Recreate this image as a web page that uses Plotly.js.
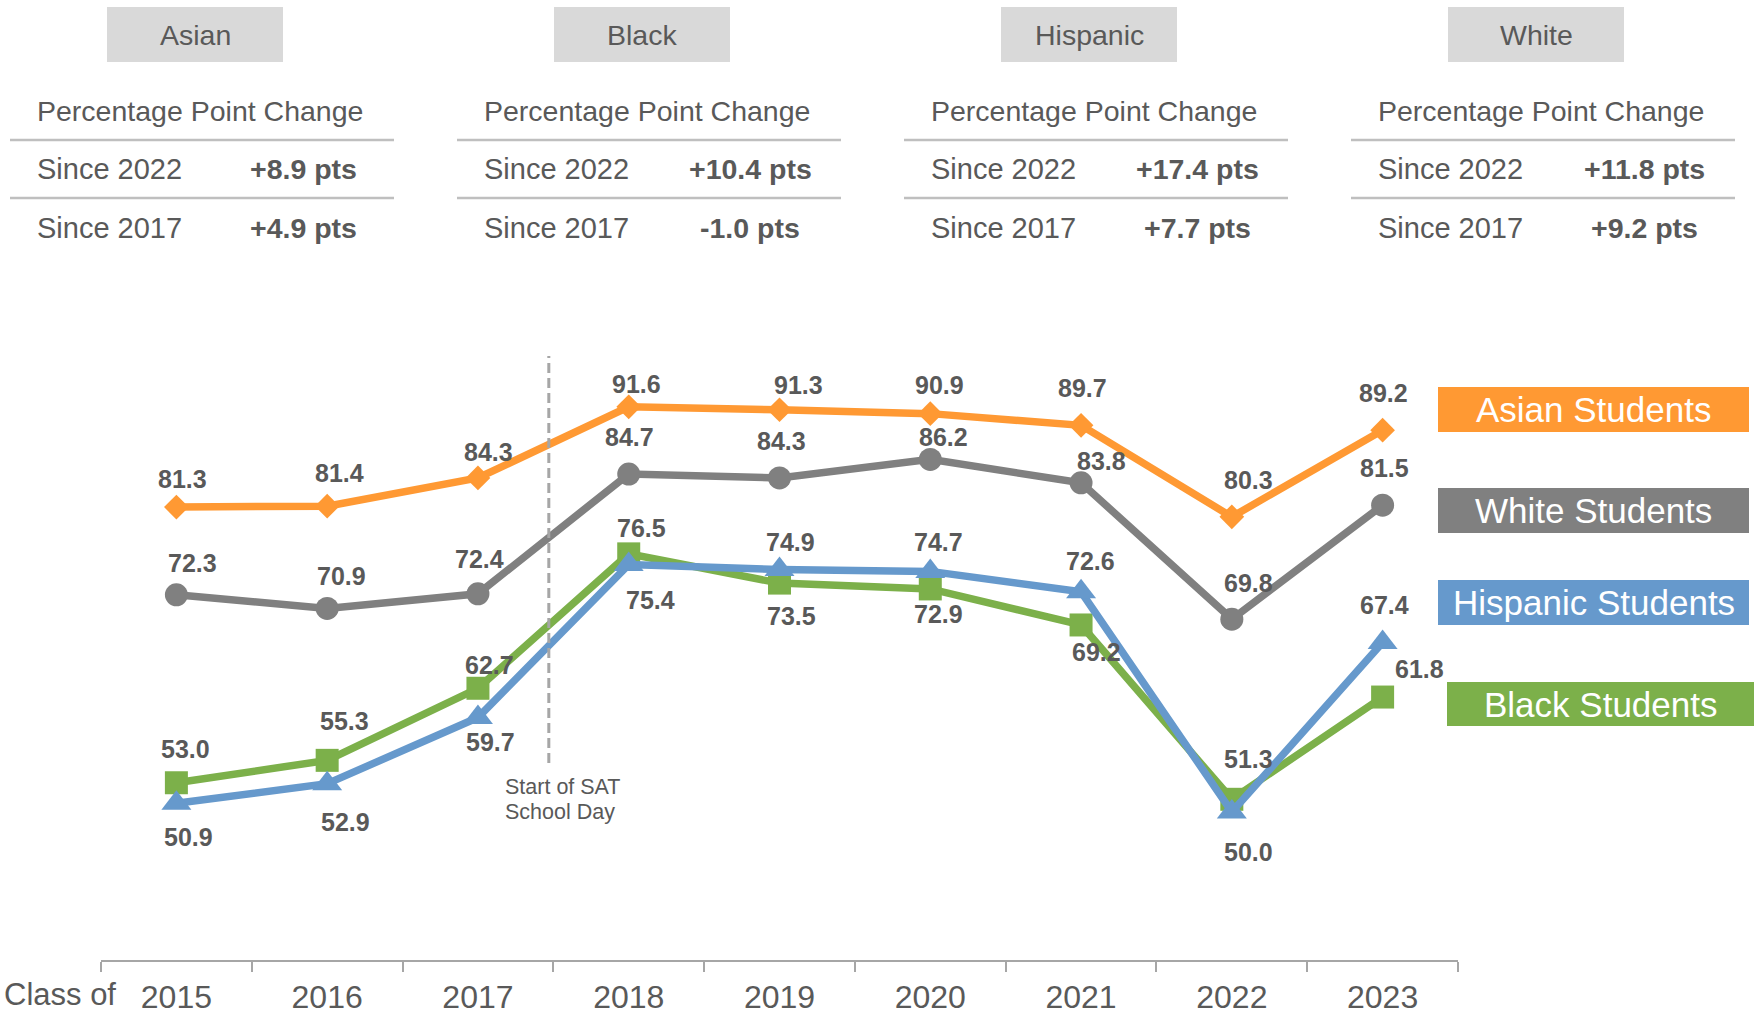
<!DOCTYPE html>
<html><head><meta charset="utf-8">
<script src="https://cdn.plot.ly/plotly-3.0.1.min.js"></script>
<style>html,body{margin:0;padding:0;background:#fff;overflow:hidden}</style>
</head><body>
<div id="chart" style="width:1754px;height:1015px"></div>
<script>
// ---------- data ----------
const years = ['2015','2016','2017','2018','2019','2020','2021','2022','2023'];
const asian    = [81.3, 81.4, 84.3, 91.6, 91.3, 90.9, 89.7, 80.3, 89.2];
const white    = [72.3, 70.9, 72.4, 84.7, 84.3, 86.2, 83.8, 69.8, 81.5];
const black    = [53.0, 55.3, 62.7, 76.5, 73.5, 72.9, 69.2, 51.3, 61.8];
const hispanic = [50.9, 52.9, 59.7, 75.4, 74.9, 74.7, 72.6, 50.0, 67.4];
const seriesNames = ['Asian Students', 'White Students', 'Hispanic Students', 'Black Students'];
const groups = ['Asian', 'Black', 'Hispanic', 'White'];
const since2022 = ['+8.9 pts', '+10.4 pts', '+17.4 pts', '+11.8 pts'];
const since2017 = ['+4.9 pts', '-1.0 pts', '+7.7 pts', '+9.2 pts'];
const tableHeader = 'Percentage Point Change';
const rowLabels = ['Since 2022', 'Since 2017'];
const axisLead = 'Class of';
const eventLabel = ['Start of SAT', 'School Day'];
const eventPos = 2.47; // between 2017 and 2018 categories

// ---------- styles / label offsets (pixels) ----------
const COL = {asian:'#ff9933', white:'#808080', hispanic:'#6699cc', black:'#7cb04a'};
const TXT = '#595959';
const FONT = 'Arial, "Liberation Sans", sans-serif';
const offAsian = [[6,-28],[12,-33],[11,-26],[8,-23],[19,-25],[9,-29],[1,-37],[17,-37],[1,-37]];
const offWhite = [[16,-32],[14,-32],[2,-35],[1,-37],[2,-37],[13,-22],[20,-22],[17,-36],[2,-37]];
const offBlack = [[9,-34],[17,-39],[12,-23],[13,-26],[12,33],[8,25],[15,27],[17,-40],[37,-28]];
const offHisp  = [[12,34],[18,38],[13,25],[22,35],[11,-27],[8,-29],[9,-31],[17,40],[2,-38]];

// ---------- geometry ----------
const W = 1754, H = 1015, L = 101, R = 296, T = 325, B = 55;
const PW = W - L - R, PH = H - T - B;
const px = v => (v - L) / PW;
const py = v => (H - B - v) / PH;

function trace(name, ys, color, symbol, size) {
  return {
    type: 'scatter', mode: 'lines+markers', name: name, x: years, y: ys,
    line: {color: color, width: 7.5},
    marker: {symbol: symbol, size: size, color: color},
    hoverinfo: 'skip', cliponaxis: false
  };
}
const data = [
  trace(seriesNames[0], asian, COL.asian, 'diamond', 19),
  trace(seriesNames[1], white, COL.white, 'circle', 23),
  trace(seriesNames[3], black, COL.black, 'square', 23),
  trace(seriesNames[2], hispanic, COL.hispanic, 'triangle-up', 26)
];

const annotations = [];
const shapes = [];

function addLabels(ys, offs) {
  ys.forEach((v, i) => {
    annotations.push({
      x: i, y: v, xref: 'x', yref: 'y', showarrow: false,
      text: v.toFixed(1), xshift: offs[i][0], yshift: -offs[i][1],
      font: {family: FONT, size: 25, color: TXT, weight: 'bold'},
      xanchor: 'center', yanchor: 'middle'
    });
  });
}
addLabels(asian, offAsian);
addLabels(white, offWhite);
addLabels(black, offBlack);
addLabels(hispanic, offHisp);

// dashed event line
shapes.push({type: 'line', xref: 'x', yref: 'paper', x0: eventPos, x1: eventPos,
  y0: py(763), y1: py(356), line: {color: '#a6a6a6', width: 3, dash: '10px,5px'}});
eventLabel.forEach((t, i) => {
  annotations.push({xref: 'paper', yref: 'paper', x: px(503), y: py(787 + i * 25),
    text: t, showarrow: false, xanchor: 'left', yanchor: 'middle',
    font: {family: FONT, size: 21.5, color: TXT}});
});

// axis lead label
annotations.push({xref: 'paper', yref: 'paper', x: px(2), y: py(995), text: axisLead,
  showarrow: false, xanchor: 'left', yanchor: 'middle',
  font: {family: FONT, size: 31, color: TXT}});

// legend boxes
const legendBoxes = [
  {name: seriesNames[0], color: COL.asian, x0: 1438, x1: 1749, y0: 387, y1: 432},
  {name: seriesNames[1], color: COL.white, x0: 1438, x1: 1749, y0: 488, y1: 533},
  {name: seriesNames[2], color: COL.hispanic, x0: 1438, x1: 1749, y0: 580, y1: 625},
  {name: seriesNames[3], color: COL.black, x0: 1447, x1: 1754, y0: 682, y1: 726}
];
legendBoxes.forEach(b => {
  shapes.push({type: 'rect', xref: 'paper', yref: 'paper', x0: px(b.x0), x1: px(b.x1),
    y0: py(b.y1), y1: py(b.y0), fillcolor: b.color, line: {width: 0}, layer: 'above'});
  annotations.push({xref: 'paper', yref: 'paper', x: px((b.x0 + b.x1) / 2), y: py((b.y0 + b.y1) / 2),
    text: b.name, showarrow: false, xanchor: 'center', yanchor: 'middle',
    font: {family: FONT, size: 35, color: '#ffffff'}});
});

// top summary tables
groups.forEach((g, i) => {
  const s = 10 + i * 447;
  shapes.push({type: 'rect', xref: 'paper', yref: 'paper', x0: px(s + 97), x1: px(s + 273),
    y0: py(62), y1: py(7), fillcolor: '#d9d9d9', line: {width: 0}});
  annotations.push({xref: 'paper', yref: 'paper', x: px(s + 185), y: py(35), text: g,
    showarrow: false, xanchor: 'center', yanchor: 'middle',
    font: {family: FONT, size: 28.5, color: TXT}});
  annotations.push({xref: 'paper', yref: 'paper', x: px(s + 25), y: py(111), text: tableHeader,
    showarrow: false, xanchor: 'left', yanchor: 'middle',
    font: {family: FONT, size: 28.5, color: TXT}});
  [140, 198].forEach(yy => {
    shapes.push({type: 'line', xref: 'paper', yref: 'paper', x0: px(s), x1: px(s + 384),
      y0: py(yy), y1: py(yy), line: {color: '#bfbfbf', width: 2.5}});
  });
  const vals = [since2022[i], since2017[i]];
  [169, 228].forEach((yy, r) => {
    annotations.push({xref: 'paper', yref: 'paper', x: px(s + 25), y: py(yy), text: rowLabels[r],
      showarrow: false, xanchor: 'left', yanchor: 'middle',
      font: {family: FONT, size: 29, color: TXT}});
    annotations.push({xref: 'paper', yref: 'paper', x: px(s + 293), y: py(yy), text: vals[r],
      showarrow: false, xanchor: 'center', yanchor: 'middle',
      font: {family: FONT, size: 28.5, color: TXT, weight: 'bold'}});
  });
});

const layout = {
  width: W, height: H, margin: {l: L, r: R, t: T, b: B, pad: 0},
  paper_bgcolor: '#ffffff', plot_bgcolor: '#ffffff', showlegend: false,
  font: {family: FONT, color: TXT},
  xaxis: {type: 'category', range: [-0.5, 8.5], tickson: 'boundaries', ticks: 'outside',
    ticklen: 10, tickwidth: 2, tickcolor: '#a6a6a6', showline: true, linecolor: '#a6a6a6',
    linewidth: 2, showgrid: false, zeroline: false, fixedrange: true, ticklabelstandoff: 8,
    tickfont: {family: FONT, size: 32, color: TXT}},
  yaxis: {range: [34.8, 100], visible: false, showgrid: false, zeroline: false, fixedrange: true},
  shapes: shapes, annotations: annotations
};
Plotly.newPlot('chart', data, layout, {staticPlot: true, displayModeBar: false});
</script>
</body></html>
